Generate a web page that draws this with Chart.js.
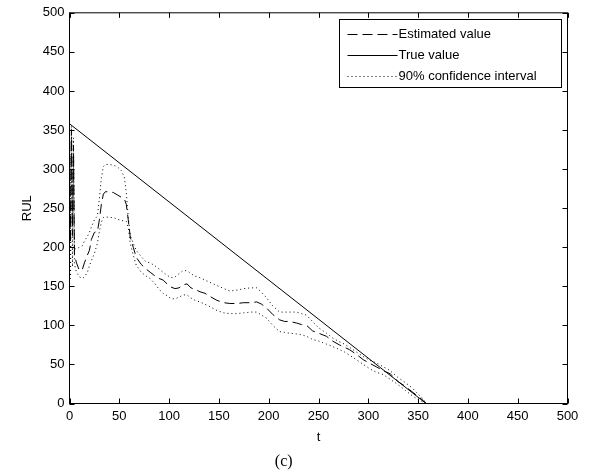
<!DOCTYPE html>
<html>
<head>
<meta charset="utf-8">
<script src="https://cdn.jsdelivr.net/npm/chart.js@4/dist/chart.umd.min.js"></script>
<style>
  html, body { margin: 0; padding: 0; background: #fff; }
  #wrap { width: 591px; height: 474px; position: relative; }
</style>
</head>
<body>
<div id="wrap"><canvas id="chart_rul"></canvas></div>
<script>
// time steps shared by the estimate and its confidence bounds
var tEst = [0, 1, 2, 3, 4, 5, 7, 10, 13, 15, 18, 20, 22, 25, 28, 30, 32, 34, 36, 40,
    44, 48, 52, 55, 57, 59, 61, 64, 67, 72, 77, 81, 86, 90, 94, 98, 102, 106, 110, 114,
    118, 122, 126, 131, 136, 141, 148, 155, 161, 168, 175, 182, 188, 193, 198, 204, 211, 216, 221, 228,
    233, 238, 244, 250, 258, 264, 271, 276, 281, 288, 295, 302, 308, 315, 322, 330, 337, 344, 350, 355,
    358];
var estimated = [355, 205, 350, 215, 330, 190, 180, 170, 172, 180, 190, 196, 210, 219, 220, 235, 255, 268, 271, 271,
    270, 267, 264, 262, 255, 235, 213, 200, 187, 178, 172, 168, 163, 160, 158, 153, 149, 147, 148, 152,
    153, 148, 146, 143, 141, 137, 132, 129, 128, 128, 129, 129, 130, 127, 122, 114, 107, 105, 105, 103,
    101, 100, 93, 90, 86, 80, 75, 72, 69, 63, 56, 51, 47, 42, 38, 28, 22, 15, 9, 4,
    0];
var upperCI = [358, 220, 355, 230, 340, 198, 198, 200, 202, 208, 214, 219, 226, 235, 240, 262, 289, 303, 306, 306,
    305, 303, 298, 290, 270, 238, 215, 205, 196, 188, 181, 180, 176, 172, 168, 164, 161, 162, 166, 170,
    170, 166, 163, 161, 158, 155, 151, 147, 144, 145, 147, 148, 148, 142, 135, 125, 117, 117, 117, 117,
    115, 113, 105, 97, 90, 84, 79, 76, 72, 66, 60, 55, 52, 47, 42, 33, 27, 20, 12, 6,
    0];
var lowerCI = [350, 160, 345, 175, 320, 178, 168, 162, 160, 162, 168, 176, 183, 192, 205, 220, 232, 238, 239, 238,
    238, 236, 234, 234, 233, 225, 205, 190, 177, 168, 163, 160, 153, 146, 141, 138, 134, 134, 136, 139,
    139, 135, 132, 130, 127, 124, 119, 116, 115, 115, 116, 117, 117, 113, 109, 100, 92, 91, 90, 89,
    88, 86, 82, 80, 76, 73, 69, 66, 62, 56, 50, 44, 40, 37, 31, 24, 17, 10, 5, 2,
    0];
var tTrue = [0, 358];
var trueRUL = [358, 0];

var axisMin = 0;
var axisMax = 500;
var axisStep = 50;

function toPoints(xs, ys) {
    return xs.map(function(x, i) { return { x: x, y: ys[i] }; });
}

Chart.defaults.font.family = "'Liberation Sans', Arial, sans-serif";
Chart.defaults.font.size = 13;
Chart.defaults.color = '#000';

// MATLAB style box with inward ticks on all four sides
var boxPlugin = {
    id: 'matlabBox',
    afterDraw: function(chart) {
        var ctx = chart.ctx;
        var a = chart.chartArea;
        var xs = chart.scales.x, ys = chart.scales.y;
        ctx.save();
        ctx.strokeStyle = '#000';
        ctx.lineWidth = 1;
        ctx.setLineDash([]);
        ctx.strokeRect(a.left, a.top, a.right - a.left, a.bottom - a.top);
        ctx.beginPath();
        xs.ticks.forEach(function(t) {
            var px = Math.round(xs.getPixelForValue(t.value)) + 0.5;
            ctx.moveTo(px, a.bottom); ctx.lineTo(px, a.bottom - 5);
            ctx.moveTo(px, a.top); ctx.lineTo(px, a.top + 5);
        });
        ys.ticks.forEach(function(t) {
            var py = Math.round(ys.getPixelForValue(t.value)) + 0.5;
            ctx.moveTo(a.left, py); ctx.lineTo(a.left + 5, py);
            ctx.moveTo(a.right, py); ctx.lineTo(a.right - 5, py);
        });
        ctx.stroke();

        // legend box in the upper right corner
        var lx = 339.5, ly = 19.5, lw = 222, lh = 68;
        ctx.fillStyle = '#fff';
        ctx.fillRect(lx, ly, lw, lh);
        ctx.strokeRect(lx, ly, lw, lh);
        ctx.font = "13px 'Liberation Sans', Arial, sans-serif";
        ctx.textBaseline = 'middle';
        ctx.fillStyle = '#000';
        var rows = [0, 1, 2];
        rows.forEach(function(di, i) {
            var ds = chart.data.datasets[di];
            var y = Math.round(ly + 14 + i * 21) + 0.5;
            ctx.beginPath();
            ctx.setLineDash(ds.borderDash || []);
            ctx.moveTo(lx + 8, y);
            ctx.lineTo(lx + 58, y);
            ctx.stroke();
            ctx.setLineDash([]);
            ctx.fillText(ds.label, lx + 59, y);
        });
        ctx.restore();
    }
};

var chart_rul = new Chart(document.getElementById('chart_rul'), {
    type: 'line',
    data: {
        datasets: [
            {
                label: 'Estimated value',
                data: toPoints(tEst, estimated),
                borderColor: '#000',
                borderWidth: 1,
                borderDash: [10, 5],
                pointRadius: 0,
                tension: 0
            },
            {
                label: 'True value',
                data: toPoints(tTrue, trueRUL),
                borderColor: '#000',
                borderWidth: 1,
                pointRadius: 0,
                tension: 0
            },
            {
                label: '90% confidence interval',
                data: toPoints(tEst, upperCI),
                borderColor: '#000',
                borderWidth: 1,
                borderDash: [1, 3],
                pointRadius: 0,
                tension: 0
            },
            {
                label: '90% confidence interval (lower)',
                data: toPoints(tEst, lowerCI),
                borderColor: '#000',
                borderWidth: 1,
                borderDash: [1, 3],
                pointRadius: 0,
                tension: 0
            }
        ]
    },
    options: {
        animation: false,
        responsive: true,
        maintainAspectRatio: false,
        layout: {
            padding: { left: 0, right: 23.5, top: 10.5, bottom: 0 }
        },
        plugins: {
            legend: { display: false },
            tooltip: { enabled: false },
            title: {
                display: true,
                position: 'bottom',
                text: '(c)',
                color: '#000',
                font: { family: "'Liberation Serif', 'Times New Roman', serif", size: 16, weight: 'normal' },
                padding: { top: 0, bottom: 3 }
            }
        },
        scales: {
            x: {
                type: 'linear',
                min: axisMin,
                max: axisMax,
                grid: { display: false, drawTicks: false },
                border: { display: false },
                ticks: { stepSize: axisStep, padding: 5, maxRotation: 0, autoSkip: false },
                title: { display: true, text: 't', padding: { top: 0, bottom: 7 } },
                afterFit: function(scale) { scale.height = 48.3; }
            },
            y: {
                type: 'linear',
                min: axisMin,
                max: axisMax,
                grid: { display: false, drawTicks: false },
                border: { display: false },
                ticks: { stepSize: axisStep, padding: 5, autoSkip: false },
                title: { display: true, text: 'RUL', padding: { top: 20, bottom: 0 } },
                afterFit: function(scale) { scale.width = 69.5; }
            }
        }
    },
    plugins: [boxPlugin, {
        id: 'whiteBg',
        beforeDraw: function(chart) {
            var ctx = chart.ctx;
            ctx.save();
            ctx.globalCompositeOperation = 'destination-over';
            ctx.fillStyle = 'white';
            ctx.fillRect(0, 0, chart.width, chart.height);
            ctx.restore();
        }
    }]
});
</script>
</body>
</html>
